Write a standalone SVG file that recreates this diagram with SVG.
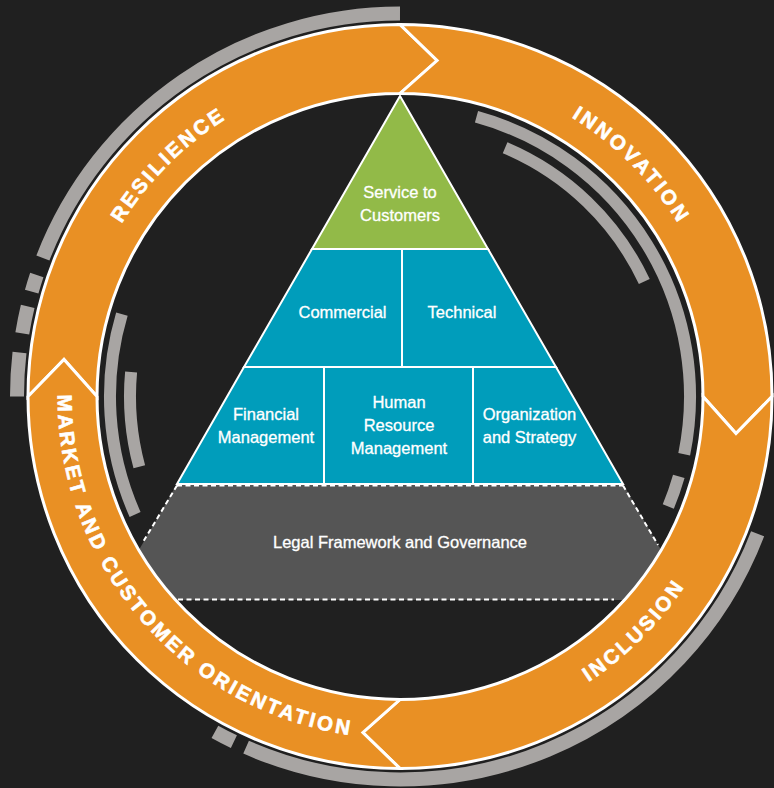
<svg xmlns="http://www.w3.org/2000/svg" xmlns:xlink="http://www.w3.org/1999/xlink" width="774" height="788" viewBox="0 0 774 788">
<style>
.seg{fill:#E99024;stroke:#fff;stroke-width:3;stroke-linejoin:miter}
.ring{font-family:"Liberation Sans",Arial,sans-serif;font-weight:bold;font-size:20.5px;fill:#fff;stroke:#fff;stroke-width:0.6px;letter-spacing:2.8px}
.garc{fill:none;stroke:#A8A5A3;stroke-linecap:butt}
.go{stroke-width:14}
.gi{stroke-width:12}
.cell{stroke:#fff;stroke-width:2;stroke-linejoin:miter}
.teal{fill:#009DBB}
.green{fill:#92BA48}
.lbl{font-family:"Liberation Sans",Arial,sans-serif;font-size:16.5px;fill:#fff;stroke:#fff;stroke-width:0.3px;text-anchor:middle}
.dash{fill:none;stroke:#fff;stroke-width:2;stroke-dasharray:5 3.5}
</style>
<defs>
<clipPath id="inner"><circle cx="400" cy="396.5" r="303"/></clipPath>
<path id="pRes" d="M83.5,481.3 A327.7,327.7 0 0 1 484.8,80.0"/>
<path id="pInn" d="M315.2,80.0 A327.7,327.7 0 0 1 716.5,481.3"/>
<path id="pInc" d="M311.4,727.1 A342.3,342.3 0 0 0 730.6,307.9"/>
<path id="pMar" d="M76.7,283.9 A342.3,342.3 0 0 0 464.1,732.7"/>
</defs>
<rect x="0" y="0" width="774" height="788" fill="#202020"/>

<g id="gray-arcs">
<path class="garc go" d="M42.9,258 A383,383 0 0 1 400,13.5"/>
<path class="garc go" d="M31.7,291.6 A383,383 0 0 1 36.8,275.0"/>
<path class="garc go" d="M22.3,333.3 A383,383 0 0 1 27.7,306.4"/>
<path class="garc go" d="M17,396.5 A383,383 0 0 1 19.5,352.5"/>
<path class="garc go" d="M233.9,741.6 A383,383 0 0 1 214.9,731.8"/>
<path class="garc go" d="M757.6,533.8 A383,383 0 0 1 246.1,747.2"/>
<path class="garc gi" d="M476.5,116.8 A290,290 0 0 1 684.2,454.3"/>
<path class="garc gi" d="M678.8,476.4 A290,290 0 0 1 668.3,506.5"/>
<path class="garc gi" d="M505.1,147.8 A270,270 0 0 1 644.3,281.5"/>
<path class="garc gi" d="M135.1,514.5 A290,290 0 0 1 121.9,314.1"/>
<path class="garc gi" d="M139.3,466.8 A270,270 0 0 1 131.1,372.0"/>
</g>

<g id="legal">
<polygon points="177,484 623,484 690,600 110,600" fill="#555555" clip-path="url(#inner)"/>
<line class="dash" x1="177" y1="485.5" x2="623" y2="485.5"/>
<line class="dash" x1="178" y1="599.5" x2="614" y2="599.5"/>
<line class="dash" x1="177" y1="485.5" x2="143" y2="542"/>
<line class="dash" x1="623" y1="485.5" x2="658" y2="545"/>
<text class="lbl" x="400" y="548" font-size="15.5">Legal Framework and Governance</text>
</g>

<g id="service">
<polygon class="cell green" points="400,96 312,249 488,249"/>
<text class="lbl" x="400" y="198">Service to</text>
<text class="lbl" x="400" y="221">Customers</text>
</g>
<g id="commercial">
<polygon class="cell teal" points="312,249 402,249 402,367 244,367"/>
<text class="lbl" x="342.5" y="318">Commercial</text>
</g>
<g id="technical">
<polygon class="cell teal" points="402,249 488,249 556,367 402,367"/>
<text class="lbl" x="462" y="318">Technical</text>
</g>
<g id="financial">
<polygon class="cell teal" points="244,367 324,367 324,484 177,484"/>
<text class="lbl" x="266" y="420">Financial</text>
<text class="lbl" x="266" y="443">Management</text>
</g>
<g id="hr">
<polygon class="cell teal" points="324,367 473,367 473,484 324,484"/>
<text class="lbl" x="399" y="408">Human</text>
<text class="lbl" x="399" y="431">Resource</text>
<text class="lbl" x="399" y="454">Management</text>
</g>
<g id="organization">
<polygon class="cell teal" points="473,367 556,367 623,484 473,484"/>
<text class="lbl" x="529.5" y="420">Organization</text>
<text class="lbl" x="529.5" y="443">and Strategy</text>
</g>

<g id="resilience">
<path class="seg" d="M28,396.5 A372,372 0 0 1 400,24.5 L437.1,60.5 L400,93.5 A303,303 0 0 0 97,396.5 L64,359.4 Z"/>
<text class="ring"><textPath xlink:href="#pRes" startOffset="50%" text-anchor="middle">RESILIENCE</textPath></text>
</g>
<g id="innovation">
<path class="seg" d="M400,24.5 A372,372 0 0 1 772,396.5 L736,433.6 L703,396.5 A303,303 0 0 0 400,93.5 L437.1,60.5 Z"/>
<text class="ring"><textPath xlink:href="#pInn" startOffset="50%" text-anchor="middle">INNOVATION</textPath></text>
</g>
<g id="inclusion">
<path class="seg" d="M772,396.5 A372,372 0 0 1 400,768.5 L362.9,732.5 L400,699.5 A303,303 0 0 0 703,396.5 L736,433.6 Z"/>
<text class="ring"><textPath xlink:href="#pInc" startOffset="50%" text-anchor="middle">INCLUSION</textPath></text>
</g>
<g id="market">
<path class="seg" d="M400,768.5 A372,372 0 0 1 28,396.5 L64,359.4 L97,396.5 A303,303 0 0 0 400,699.5 L362.9,732.5 Z"/>
<text class="ring"><textPath xlink:href="#pMar" startOffset="50%" text-anchor="middle">MARKET AND CUSTOMER ORIENTATION</textPath></text>
</g>
</svg>
